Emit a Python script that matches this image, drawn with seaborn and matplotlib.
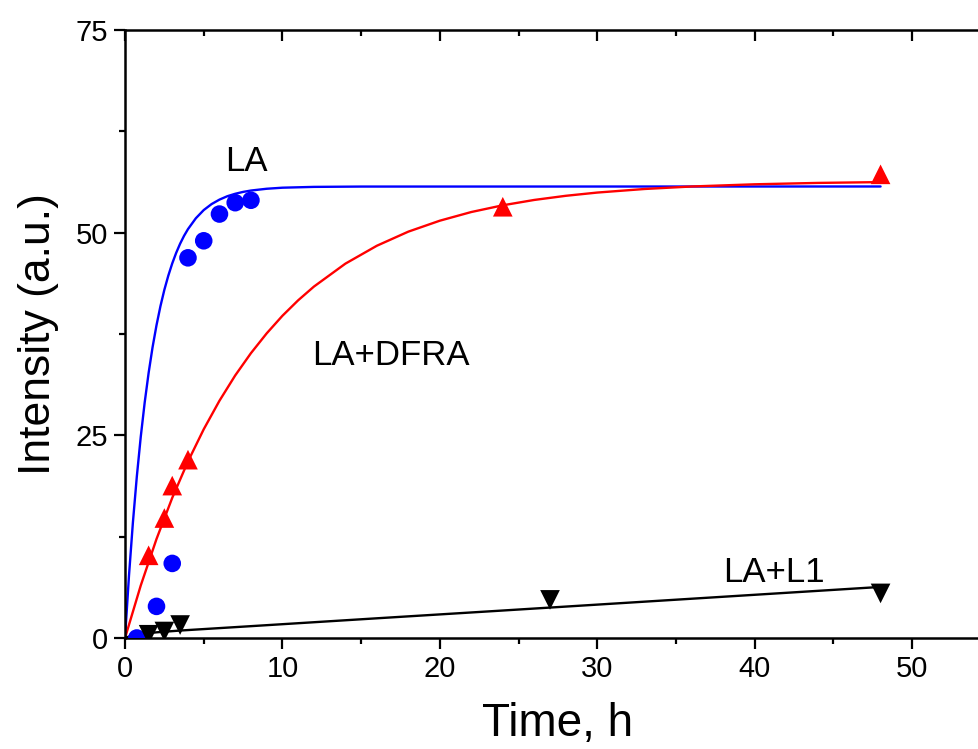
import numpy as np
import pandas as pd
import matplotlib
matplotlib.use("Agg")
import matplotlib.pyplot as plt
import seaborn as sns
from matplotlib.ticker import MultipleLocator
from matplotlib.markers import TICKDOWN

# Measured intensities
la_time = [0.75, 2, 3, 4, 5, 6, 7, 8]
la_int = [0.0, 3.9, 9.2, 46.9, 49.0, 52.3, 53.7, 54.0]

dfra_time = [1.5, 2.5, 3, 4, 24, 48]
dfra_int = [10.2, 14.8, 18.8, 22.0, 53.2, 57.2]

l1_time = [1.5, 2.5, 3.5, 27, 48]
l1_int = [0.4, 0.8, 1.6, 4.7, 5.5]

# Fitted kinetic curves
la_fit_t = [0, 0.25, 0.5, 0.75, 1.0, 1.25, 1.5, 1.75, 2.0, 2.25, 2.5, 2.75,
            3.0, 3.25, 3.5, 3.75, 4.0, 4.5, 5.0, 5.5, 6.0, 6.5, 7.0, 7.5,
            8.0, 9.0, 10.0, 12.0, 15.0, 48.0]
la_fit_y = [0, 7.64, 14.23, 19.92, 24.83, 29.06, 32.71, 35.87, 38.58, 40.93,
            42.96, 44.70, 46.21, 47.51, 48.64, 49.61, 50.44, 51.78, 52.79,
            53.53, 54.08, 54.50, 54.80, 55.03, 55.20, 55.42, 55.55, 55.65,
            55.69, 55.70]

dfra_fit_t = [0, 1, 2, 3, 4, 5, 6, 7, 8, 9, 10, 11, 12, 14, 16, 18, 20, 22,
              24, 26, 28, 30, 33, 36, 40, 44, 48]
dfra_fit_y = [0, 6.48, 12.21, 17.29, 21.78, 25.75, 29.27, 32.39, 35.14,
              37.58, 39.75, 41.66, 43.35, 46.18, 48.39, 50.13, 51.48, 52.55,
              53.38, 54.04, 54.55, 54.95, 55.39, 55.70, 55.97, 56.14, 56.24]

l1_fit_t = [0, 0.5, 1, 2, 3.5, 8, 16, 24, 32, 40, 48]
l1_fit_y = [0, 0.35, 0.5, 0.7, 0.92, 1.46, 2.43, 3.39, 4.36, 5.33, 6.3]

x_ticks = [0, 10, 20, 30, 40, 50]
x_minor = [5, 15, 25, 35, 45]
y_ticks = [0, 25, 50, 75]

sns.set_theme(style="ticks")
plt.rcParams["font.family"] = ["Liberation Sans", "DejaVu Sans"]
plt.rcParams["text.color"] = "black"
plt.rcParams["axes.labelcolor"] = "black"

fig = plt.figure(figsize=(9.79, 7.49), dpi=100)
ax = fig.add_axes([0.1277, 0.1482, 0.8843, 0.8117])

fits = [
    (la_fit_t, la_fit_y, "#0000ff"),
    (dfra_fit_t, dfra_fit_y, "#ff0000"),
    (l1_fit_t, l1_fit_y, "#000000"),
]
for t, y, c in fits:
    sns.lineplot(x=t, y=y, ax=ax, color=c, lw=1.7, sort=False,
                 estimator=None, zorder=2)

sns.scatterplot(x=la_time, y=la_int, ax=ax, marker="o", s=160,
                color="#0000ff", edgecolor="none", zorder=3)
sns.scatterplot(x=dfra_time, y=dfra_int, ax=ax, marker="^", s=200,
                color="#ff0000", edgecolor="none", zorder=3)
sns.scatterplot(x=l1_time, y=l1_int, ax=ax, marker="v", s=200,
                color="#000000", edgecolor="none", zorder=3)

ax.text(7.7, 58.8, "LA", fontsize=25, ha="center", va="center",
        color="black")
ax.text(16.9, 34.8, "LA+DFRA", fontsize=25, ha="center", va="center",
        color="black")
ax.text(41.2, 8.1, "LA+L1", fontsize=25, ha="center", va="center",
        color="black")

ax.set_xlim(0, 55)
ax.set_ylim(0, 75)
ax.set_xticks(x_ticks)
ax.set_yticks(y_ticks)
ax.xaxis.set_minor_locator(MultipleLocator(5))
ax.yaxis.set_minor_locator(MultipleLocator(12.5))

for side in ["left", "bottom", "top"]:
    ax.spines[side].set_linewidth(1.8)
    ax.spines[side].set_color("black")
ax.spines["right"].set_visible(False)

ax.tick_params(axis="both", which="major", direction="out", length=8,
               width=1.6, labelsize=21, colors="black", pad=4)
ax.tick_params(axis="both", which="minor", direction="out", length=4.5,
               width=1.6, colors="black")
ax.tick_params(axis="x", which="both", top=False)
ax.tick_params(axis="y", which="both", right=False)

# Inward tick marks hanging from the top frame line
top_tf = ax.get_xaxis_transform()
ax.plot(x_ticks, [1.0] * len(x_ticks), transform=top_tf, ls="none",
        marker=TICKDOWN, markersize=8, markeredgewidth=1.6, color="black",
        clip_on=False, zorder=5)
ax.plot(x_minor, [1.0] * len(x_minor), transform=top_tf, ls="none",
        marker=TICKDOWN, markersize=4.5, markeredgewidth=1.6, color="black",
        clip_on=False, zorder=5)

ax.set_xlabel("Time, h", fontsize=33, labelpad=14, color="black")
ax.set_ylabel("Intensity (a.u.)", fontsize=32, labelpad=12, color="black")
ax.grid(False)
ax.set_facecolor("white")
fig.patch.set_facecolor("white")

fig.savefig("out.png", dpi=100, facecolor="white")
